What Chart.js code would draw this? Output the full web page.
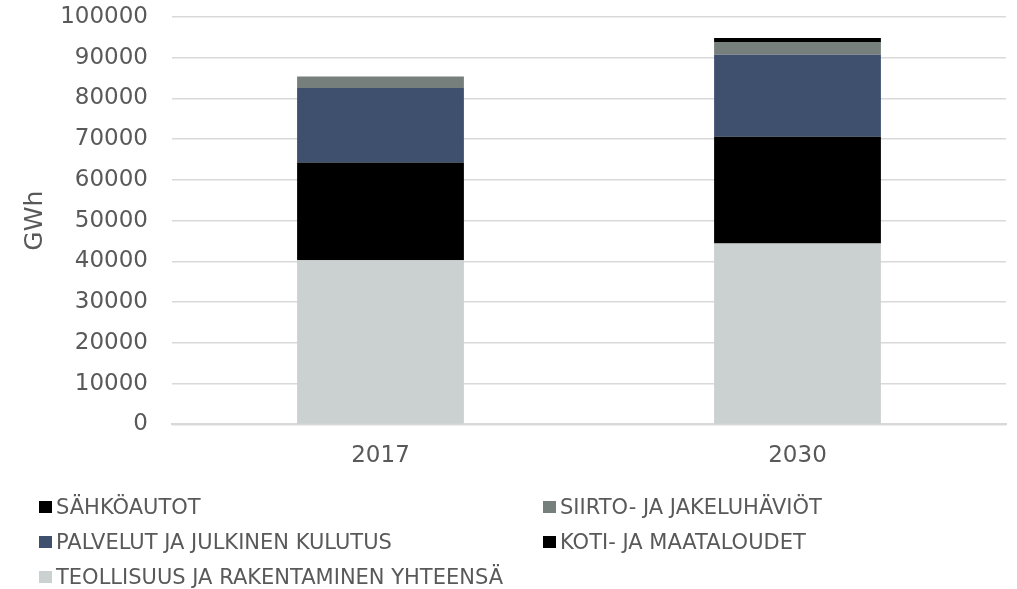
<!DOCTYPE html>
<html>
<head>
<meta charset="utf-8">
<script src="https://cdn.jsdelivr.net/npm/chart.js@4"></script>
<style>
    html, body { margin: 0; padding: 0; background: #fff; }
    body { width: 1017px; height: 589px; overflow: hidden; font-family: "DejaVu Sans", Verdana, sans-serif; }
    #wrap { position: relative; width: 1017px; height: 496px; }
    #legend {
        position: absolute; left: 39px; top: 489px;
        display: grid; grid-template-columns: 504px 400px; row-gap: 0;
    }
    .item { display: flex; align-items: center; height: 35px; color: #595959; font-size: 21px; white-space: nowrap; }
    .box { width: 13px; height: 12px; margin-right: 4px; }
</style>
</head>
<body>
<div id="wrap"><canvas id="chart"></canvas></div>
<div id="legend"></div>
<script>
// years on the x axis
const years = ['2017', '2030'];

// GWh per category (stack order, bottom first)
const teollisuus = [40300, 44400];
const kotiMaatalous = [24000, 26200];
const palvelut = [18300, 20150];
const siirtoHaviot = [2800, 3100];
const sahkoautot = [0, 1000];

const yTicks = [0, 10000, 20000, 30000, 40000, 50000, 60000, 70000, 80000, 90000, 100000];

const textColor = '#595959';
const gridColor = '#d9d9d9';

const datasets = [
    { label: 'TEOLLISUUS JA RAKENTAMINEN YHTEENSÄ', data: teollisuus, backgroundColor: '#cbd0d0' },
    { label: 'KOTI- JA MAATALOUDET', data: kotiMaatalous, backgroundColor: '#000000' },
    { label: 'PALVELUT JA JULKINEN KULUTUS', data: palvelut, backgroundColor: '#3f506f' },
    { label: 'SIIRTO- JA JAKELUHÄVIÖT', data: siirtoHaviot, backgroundColor: '#767f7b' },
    { label: 'SÄHKÖAUTOT', data: sahkoautot, backgroundColor: '#000000' }
];

const ctx = document.getElementById('chart').getContext('2d');
const chart = new Chart(ctx, {
    type: 'bar',
    data: {
        labels: years,
        datasets: datasets.map(d => ({
            label: d.label,
            data: d.data,
            backgroundColor: d.backgroundColor,
            borderWidth: 0,
            categoryPercentage: 0.8,
            barPercentage: 0.5
        }))
    },
    options: {
        responsive: true,
        maintainAspectRatio: false,
        animation: false,
        layout: { padding: { top: 17, right: 11, bottom: 8, left: 0 } },
        plugins: {
            legend: { display: false },
            tooltip: { enabled: false }
        },
        scales: {
            x: {
                stacked: true,
                grid: { display: false, drawTicks: false },
                border: { display: true, color: gridColor, width: 2 },
                ticks: {
                    color: textColor,
                    padding: 18,
                    font: { family: '"DejaVu Sans", Verdana, sans-serif', size: 23 }
                }
            },
            y: {
                stacked: true,
                min: 0,
                max: 100000,
                afterBuildTicks: scale => { scale.ticks = yTicks.map(v => ({ value: v })); },
                afterFit: scale => {
                    scale.width = 172;
                    scale.paddingTop = 0;
                    scale.paddingBottom = 0;
                },
                grid: { color: gridColor, lineWidth: 1.5, drawTicks: false },
                border: { display: false },
                title: {
                    display: true,
                    text: 'GWh',
                    color: textColor,
                    padding: { top: 20, bottom: 0 },
                    font: { family: '"DejaVu Sans", Verdana, sans-serif', size: 25 }
                },
                ticks: {
                    color: textColor,
                    padding: 24,
                    callback: v => String(v),
                    font: { family: '"DejaVu Sans", Verdana, sans-serif', size: 23 }
                }
            }
        }
    }
});

// legend in the same order as the reference (top of stack first)
const legend = document.getElementById('legend');
datasets.slice().reverse().forEach(d => {
    const item = document.createElement('div');
    item.className = 'item';
    item.innerHTML = `<span class="box" style="background:${d.backgroundColor}"></span>${d.label}`;
    legend.appendChild(item);
});
</script>
</body>
</html>
